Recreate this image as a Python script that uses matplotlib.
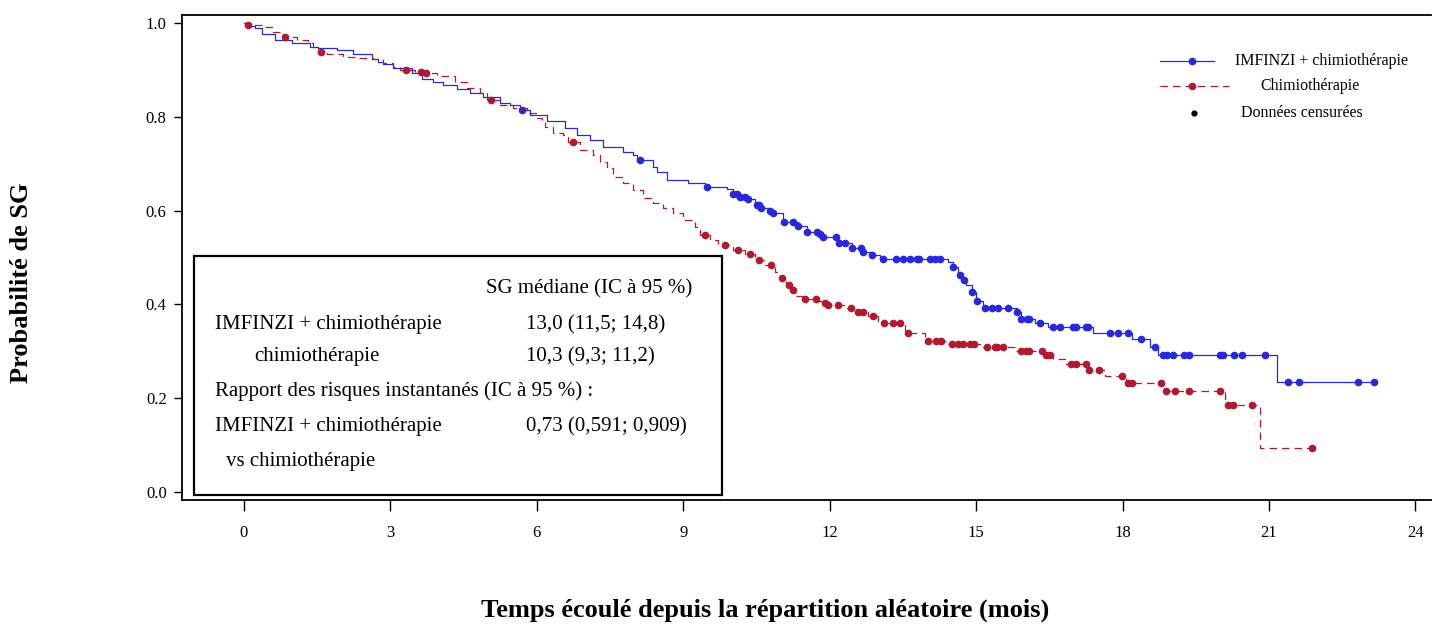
import numpy as np
import matplotlib
matplotlib.use("Agg")
import matplotlib.pyplot as plt
from matplotlib.patches import Rectangle

plt.rcParams["font.family"] = ["Liberation Serif", "DejaVu Serif"]

# Kaplan-Meier curves (time in months, survival after each drop)
imfinzi_times = [0, 0.12, 0.23, 0.37, 0.64, 0.98, 1.35, 1.52, 1.91, 2.23, 2.62, 2.75, 2.85, 3.05,
                 3.44, 3.65, 3.87, 4.08, 4.36, 4.63, 4.90, 5.25, 5.45, 5.66, 5.86, 6.21, 6.58, 6.82,
                 7.09, 7.36, 7.77, 7.97, 8.05, 8.38, 8.46, 8.67, 9.10, 9.45, 9.90, 10.02, 10.16,
                 10.31, 10.47, 10.57, 10.78, 10.84, 11.05, 11.35, 11.54, 11.76, 11.86, 12.15, 12.46,
                 12.66, 12.87, 13.03, 14.43, 14.53, 14.63, 14.71, 14.80, 14.92, 15.00, 15.14, 15.84,
                 15.92, 16.21, 16.48, 17.40, 18.20, 18.57, 18.73, 21.17]
imfinzi_surv = [1.0, 0.994, 0.989, 0.977, 0.964, 0.957, 0.949, 0.947, 0.942, 0.934, 0.923, 0.917,
                0.913, 0.904, 0.893, 0.881, 0.874, 0.868, 0.859, 0.851, 0.842, 0.829, 0.825, 0.814,
                0.804, 0.791, 0.776, 0.761, 0.751, 0.736, 0.725, 0.719, 0.708, 0.693, 0.682, 0.665,
                0.659, 0.650, 0.646, 0.635, 0.629, 0.625, 0.612, 0.606, 0.599, 0.595, 0.576, 0.567,
                0.554, 0.550, 0.544, 0.531, 0.520, 0.512, 0.505, 0.497, 0.490, 0.480, 0.463, 0.452,
                0.441, 0.426, 0.407, 0.392, 0.384, 0.369, 0.360, 0.352, 0.339, 0.326, 0.309, 0.292,
                0.235]
imfinzi_end = 23.16
imfinzi_censored = [5.70, 8.11, 9.49, 10.02, 10.10, 10.16, 10.27, 10.33, 10.51, 10.55, 10.59, 10.78,
                    10.84, 11.07, 11.25, 11.35, 11.54, 11.74, 11.80, 11.86, 12.13, 12.19, 12.32,
                    12.46, 12.64, 12.68, 12.87, 13.09, 13.36, 13.50, 13.65, 13.79, 13.83, 14.06,
                    14.16, 14.26, 14.53, 14.67, 14.75, 14.92, 15.02, 15.18, 15.33, 15.45, 15.66,
                    15.84, 15.92, 16.04, 16.09, 16.31, 16.58, 16.72, 16.99, 17.05, 17.25, 17.30,
                    17.75, 17.91, 18.11, 18.38, 18.67, 18.83, 18.91, 19.04, 19.26, 19.36, 20.00,
                    20.06, 20.29, 20.45, 20.92, 21.39, 21.62, 22.83, 23.16]

chimio_times = [0, 0.05, 0.39, 0.59, 0.80, 1.09, 1.31, 1.41, 1.52, 1.70, 2.03, 2.32, 2.64, 2.85,
                3.05, 3.20, 3.50, 3.69, 3.95, 4.32, 4.57, 4.84, 4.98, 5.25, 5.51, 5.80, 6.00, 6.11,
                6.17, 6.33, 6.54, 6.64, 6.89, 7.15, 7.30, 7.44, 7.56, 7.77, 7.97, 8.18, 8.38, 8.59,
                8.79, 9.00, 9.24, 9.34, 9.55, 9.71, 10.02, 10.27, 10.47, 10.68, 10.88, 10.98, 11.11,
                11.19, 11.29, 11.45, 11.74, 11.84, 11.95, 12.32, 12.52, 12.79, 12.99, 13.55, 13.95,
                14.41, 15.08, 15.80, 16.37, 16.58, 16.82, 17.30, 17.64, 18.07, 18.83, 20.10, 20.82]
chimio_surv = [1.0, 0.995, 0.991, 0.981, 0.970, 0.964, 0.957, 0.949, 0.938, 0.934, 0.928, 0.925,
               0.923, 0.915, 0.906, 0.900, 0.896, 0.893, 0.887, 0.874, 0.861, 0.851, 0.836, 0.825,
               0.819, 0.808, 0.797, 0.789, 0.778, 0.765, 0.761, 0.746, 0.729, 0.719, 0.704, 0.691,
               0.672, 0.659, 0.644, 0.627, 0.616, 0.606, 0.595, 0.580, 0.565, 0.548, 0.537, 0.527,
               0.516, 0.508, 0.495, 0.484, 0.469, 0.456, 0.441, 0.431, 0.418, 0.412, 0.407, 0.403,
               0.399, 0.392, 0.384, 0.375, 0.360, 0.339, 0.322, 0.316, 0.309, 0.301, 0.292, 0.284,
               0.273, 0.260, 0.247, 0.232, 0.215, 0.186, 0.094]
chimio_end = 21.89
chimio_censored = [0.08, 0.84, 1.58, 3.32, 3.63, 3.73, 5.06, 6.74, 9.45, 9.86, 10.12, 10.37, 10.55,
                   10.80, 11.02, 11.17, 11.25, 11.50, 11.72, 11.91, 11.97, 12.17, 12.44, 12.58,
                   12.68, 12.89, 13.11, 13.30, 13.44, 13.61, 14.02, 14.18, 14.28, 14.51, 14.63,
                   14.73, 14.88, 14.96, 15.23, 15.39, 15.43, 15.55, 15.92, 16.02, 16.09, 16.35,
                   16.43, 16.52, 16.95, 17.05, 17.25, 17.32, 17.52, 17.99, 18.11, 18.20, 18.79,
                   18.89, 19.08, 19.36, 20.00, 20.16, 20.27, 20.66, 21.89]

x_ticks = [0, 3, 6, 9, 12, 15, 18, 21, 24]
y_ticks = [0.0, 0.2, 0.4, 0.6, 0.8, 1.0]

legend_labels = ["IMFINZI + chimiothérapie", "Chimiothérapie", "Données censurées"]

box_left = ["", "IMFINZI + chimiothérapie", "chimiothérapie",
            "Rapport des risques instantanés (IC à 95 %) :", "IMFINZI + chimiothérapie",
            "vs chimiothérapie"]
box_right = ["SG médiane (IC à 95 %)", "13,0 (11,5; 14,8)", "10,3 (9,3; 11,2)", "",
             "0,73 (0,591; 0,909)", ""]

BLUE = "#2828DC"
RED = "#B01A30"


def surv_at(times, surv, t):
    # value of the step function at time t
    idx = np.searchsorted(times, t, side="right") - 1
    return np.asarray(surv)[idx]


fig = plt.figure(figsize=(14.32, 6.24), dpi=100)
ax = fig.add_axes([182 / 1432, 1 - 500 / 624, 1249 / 1432, 485 / 624])

# 1. curves + censor marks
ax.step(imfinzi_times + [imfinzi_end], imfinzi_surv + [imfinzi_surv[-1]], where="post",
        color=BLUE, lw=0.9)
ax.plot(imfinzi_censored, surv_at(imfinzi_times, imfinzi_surv, imfinzi_censored), "o",
        color=BLUE, ms=4.5, ls="none")
ax.step(chimio_times + [chimio_end], chimio_surv + [chimio_surv[-1]], where="post",
        color=RED, lw=0.9, ls=(0, (6, 4)))
ax.plot(chimio_censored, surv_at(chimio_times, chimio_surv, chimio_censored), "o",
        color=RED, ms=4.5, ls="none")

# 2. axes
ax.set_xlim(-1.27, 24.32)
ax.set_ylim(-0.017, 1.017)
ax.set_xticks(x_ticks)
ax.set_yticks(y_ticks)
ax.set_yticklabels([f"{v:.1f}" for v in y_ticks])
ax.tick_params(axis="x", length=8, width=1, pad=10, labelsize=12)
ax.tick_params(axis="y", length=6, width=1, pad=5, labelsize=12)
for s in ax.spines.values():
    s.set_linewidth(1.3)
ax.spines["right"].set_visible(False)

fig.text(22 / 1432, 1 - 283 / 624, "Probabilité de SG", rotation=90, ha="center", va="center",
         fontsize=19, fontweight="bold")
fig.text(765 / 1432, 1 - 610 / 624, "Temps écoulé depuis la répartition aléatoire (mois)",
         ha="center", va="center", fontsize=19, fontweight="bold")

# 3. legend (drawn by hand, like the original)
leg_y = [0.905, 0.853, 0.798]
ax.plot([0.783, 0.826], [leg_y[0]] * 2, color=BLUE, lw=0.9, transform=ax.transAxes)
ax.plot([0.809], [leg_y[0]], "o", color=BLUE, ms=4.5, transform=ax.transAxes)
ax.plot([0.783, 0.838], [leg_y[1]] * 2, color=RED, lw=0.9, ls=(0, (6, 4)), transform=ax.transAxes)
ax.plot([0.809], [leg_y[1]], "o", color=RED, ms=4.5, transform=ax.transAxes)
ax.plot([0.810], [leg_y[2]], "o", color="black", ms=3.5, transform=ax.transAxes)
for y, x, lab in zip(leg_y, [0.843, 0.863, 0.848], legend_labels):
    ax.text(x, y, lab, ha="left", va="center", fontsize=11.5, transform=ax.transAxes)

# 4. summary box
ax.add_patch(Rectangle((0.0096, 0.0103), 0.4227, 0.4927, transform=ax.transAxes,
                       fill=False, lw=1.6, ec="black", zorder=5))
row_y = [0.435, 0.361, 0.295, 0.225, 0.151, 0.080]
left_x = [0.0264, 0.0264, 0.0580, 0.0264, 0.0264, 0.0350]
right_x = [0.2434, 0.2754, 0.2754, 0.0, 0.2754, 0.0]
for lab, y, x in zip(box_left, row_y, left_x):
    if lab:
        ax.text(x, y, lab, ha="left", va="center", fontsize=15, transform=ax.transAxes)
for lab, y, x in zip(box_right, row_y, right_x):
    if lab:
        ax.text(x, y, lab, ha="left", va="center", fontsize=15, transform=ax.transAxes)

fig.savefig("out.png", dpi=100)
